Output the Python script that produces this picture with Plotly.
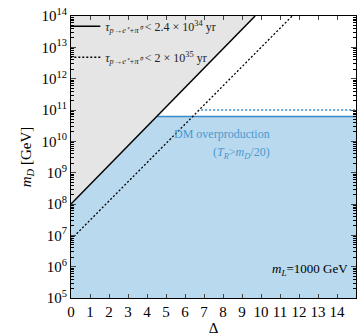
import plotly.graph_objects as go

# Data
x_min, x_max = 0, 15
y_min, y_max = 1e5, 1e14

# tau < 2.4e34 yr bound (solid) : endpoints in (Delta, m_D)
solid_delta = [0.0, 9.69]
solid_md = [1.0e8, 1.0e14]

# tau < 2e35 yr bound (dotted)
dotted_delta = [0.0, 11.64]
dotted_md = [7.4e6, 1.0e14]

# DM overproduction boundary (T_R > m_D/20)
dm_level = 6.2e10
dm_start = 4.56
# dotted blue level
dm_level2 = 1.0e11
dm2_start = 6.85

x_ticks = list(range(0, 16))
y_decades = list(range(5, 15))
y_major = [10.0 ** d for d in y_decades]
y_labels = [f"10<sup>{d}</sup>" for d in y_decades]
y_minor = [m * 10.0 ** d for d in y_decades[:-1] for m in range(2, 10)]

serif = "Liberation Serif"
blue_fill = "#b9d9ef"
blue_line = "#3a8bc8"
blue_text = "#4a98d0"
grey_fill = "#e5e5e5"

fig = go.Figure()

# blue overproduction region
fig.add_trace(go.Scatter(
    x=[x_min, x_max, x_max, x_min, x_min],
    y=[y_min, y_min, dm_level, dm_level, y_min],
    fill="toself", fillcolor=blue_fill, mode="none",
    showlegend=False, hoverinfo="skip"))

# grey excluded region above solid bound
fig.add_trace(go.Scatter(
    x=[solid_delta[0], solid_delta[1], x_min, solid_delta[0]],
    y=[solid_md[0], solid_md[1], y_max, solid_md[0]],
    fill="toself", fillcolor=grey_fill, mode="none",
    showlegend=False, hoverinfo="skip"))

# blue boundary lines
fig.add_trace(go.Scatter(x=[dm_start, x_max], y=[dm_level, dm_level],
                         mode="lines", line=dict(color=blue_line, width=1.5),
                         showlegend=False, hoverinfo="skip"))
fig.add_trace(go.Scatter(x=[dm2_start, x_max], y=[dm_level2, dm_level2],
                         mode="lines", line=dict(color=blue_line, width=1.5, dash="2px,2px"),
                         showlegend=False, hoverinfo="skip"))

# proton decay bounds
fig.add_trace(go.Scatter(
    x=solid_delta, y=solid_md, mode="lines",
    line=dict(color="black", width=1.5),
    name="<i>τ</i><sub><i>p→e⁺+π⁰</i></sub> < 2.4 × 10<sup>34</sup> yr",
    legendgroup="a"))
fig.add_trace(go.Scatter(
    x=dotted_delta, y=dotted_md, mode="lines",
    line=dict(color="black", width=1.3, dash="2px,2px"),
    name="<i>τ</i><sub><i>p→e⁺+π⁰</i></sub> < 2 × 10<sup>35</sup> yr",
    legendgroup="b"))

fig.add_annotation(x=0.705, y=0.58, xref="paper", yref="paper",
                   text="DM overproduction", showarrow=False,
                   font=dict(family=serif, size=12, color=blue_text))
fig.add_annotation(x=0.705, y=0.515, xref="paper", yref="paper",
                   text="(<i>T<sub>R</sub></i>><i>m<sub>D</sub></i>/20)", showarrow=False,
                   font=dict(family=serif, size=12, color=blue_text))
fig.add_annotation(x=0.98, y=0.065, xref="paper", yref="paper",
                   xanchor="right", text="<i>m<sub>L</sub></i>=1000 GeV",
                   showarrow=False, font=dict(family=serif, size=13, color="black"))

fig.update_layout(
    width=358, height=336,
    margin=dict(l=71, r=1, t=16, b=31),
    plot_bgcolor="white", paper_bgcolor="white",
    font=dict(family=serif, size=14, color="black"),
    legend=dict(x=-0.02, y=1.015, xanchor="left", yanchor="top",
                bgcolor="rgba(0,0,0,0)", font=dict(family=serif, size=12, color="#222"),
                tracegroupgap=12, itemwidth=30),
    xaxis=dict(range=[x_min, x_max], tickvals=x_ticks, ticks="inside", ticklen=4,
               mirror="allticks", showline=True, linecolor="black", linewidth=1.2,
               showgrid=False, zeroline=False, tickfont=dict(size=15),
               title=dict(text="Δ", font=dict(size=15), standoff=4)),
    yaxis=dict(type="log", range=[5, 14], tickmode="array", tickvals=y_major,
               ticktext=y_labels,
               ticks="inside", ticklen=5, tickwidth=1.2, mirror="allticks", showline=True,
               linecolor="black", linewidth=1.2, showgrid=False, zeroline=False,
               tickfont=dict(size=15),
               minor=dict(tickmode="array", tickvals=y_minor, ticks="inside", ticklen=3,
                          tickwidth=1, showgrid=False, tickcolor="black"),
               title=dict(text="<i>m<sub>D</sub></i> [GeV]", font=dict(size=15), standoff=6)),
)

fig.write_html("out.html")
